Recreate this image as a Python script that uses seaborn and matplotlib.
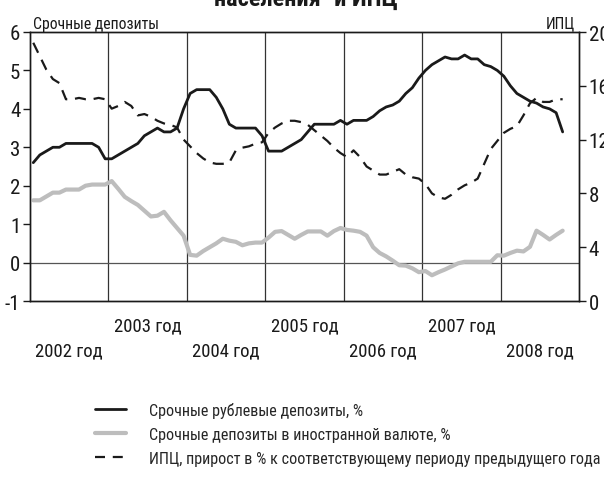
import os
import numpy as np
import pandas as pd
import matplotlib
matplotlib.use("Agg")
import matplotlib.pyplot as plt
import matplotlib.transforms as mtransforms
from matplotlib.lines import Line2D
from matplotlib import font_manager
import seaborn as sns

# Monthly series, January 2002 - October 2008
ruble_deposits = [
    2.6, 2.8, 2.9, 3.0, 3.0, 3.1, 3.1, 3.1, 3.1, 3.1, 3.0, 2.7,
    2.7, 2.8, 2.9, 3.0, 3.1, 3.3, 3.4, 3.5, 3.4, 3.4, 3.5, 4.0,
    4.4, 4.5, 4.5, 4.5, 4.3, 4.0, 3.6, 3.5, 3.5, 3.5, 3.5, 3.3,
    2.9, 2.9, 2.9, 3.0, 3.1, 3.2, 3.4, 3.6, 3.6, 3.6, 3.6, 3.7,
    3.6, 3.7, 3.7, 3.7, 3.8, 3.95, 4.05, 4.1, 4.2, 4.4, 4.55, 4.8,
    5.0, 5.15, 5.25, 5.35, 5.3, 5.3, 5.4, 5.3, 5.3, 5.15, 5.1, 5.0,
    4.85, 4.6, 4.4, 4.3, 4.2, 4.15, 4.05, 4.0, 3.9, 3.4,
]
fx_deposits = [
    1.62, 1.62, 1.72, 1.82, 1.82, 1.9, 1.9, 1.9, 2.0, 2.03, 2.03, 2.03,
    2.12, 1.92, 1.71, 1.6, 1.5, 1.35, 1.2, 1.22, 1.32, 1.1, 0.9, 0.7,
    0.2, 0.18, 0.3, 0.4, 0.5, 0.62, 0.57, 0.54, 0.45, 0.5, 0.52, 0.52,
    0.65, 0.8, 0.82, 0.72, 0.62, 0.72, 0.81, 0.81, 0.81, 0.7, 0.82, 0.9,
    0.85, 0.83, 0.8, 0.7, 0.4, 0.25, 0.16, 0.05, -0.07, -0.08, -0.15, -0.25,
    -0.22, -0.33, -0.25, -0.18, -0.1, -0.02, 0.02, 0.02, 0.02, 0.02, 0.02, 0.19,
    0.18, 0.25, 0.31, 0.29, 0.41, 0.83, 0.72, 0.6, 0.72, 0.83,
]
cpi = [
    19.2, 18.2, 17.2, 16.5, 16.2, 15.0, 15.0, 15.1, 15.0, 15.0, 15.1, 15.0,
    14.3, 14.5, 14.8, 14.5, 13.8, 13.9, 13.7, 13.4, 13.2, 13.1, 12.9, 12.0,
    11.5, 11.0, 10.6, 10.3, 10.2, 10.2, 10.3, 11.2, 11.4, 11.5, 11.7, 11.8,
    12.5, 12.9, 13.2, 13.4, 13.4, 13.3, 13.1, 12.7, 12.3, 11.9, 11.4, 11.0,
    10.7, 11.2, 10.7, 10.0, 9.7, 9.4, 9.4, 9.6, 9.8, 9.4, 9.2, 9.1,
    8.7, 8.0, 7.7, 7.6, 7.9, 8.3, 8.6, 8.8, 9.1, 10.2, 11.3, 11.9,
    12.5, 12.8, 13.0, 13.8, 14.7, 15.1, 14.8, 14.8, 15.0, 15.0,
]
years = [2002, 2003, 2004, 2005, 2006, 2007, 2008]
year_labels = [f"{y} год" for y in years]
left_ticks = [-1, 0, 1, 2, 3, 4, 5, 6]
right_ticks = [0, 4, 8, 12, 16, 20]
legend_labels = [
    "Срочные рублевые депозиты, %",
    "Срочные депозиты в иностранной валюте, %",
    "ИПЦ, прирост в % к соответствующему периоду предыдущего года",
]

# each monthly value sits in the middle of its month
t = years[0] + (np.arange(len(ruble_deposits)) + 0.5) / 12
df = pd.DataFrame({"t": t, "rub": ruble_deposits, "fx": fx_deposits, "cpi": cpi})

sns.set_theme(style="white")


def find_font(patterns):
    files = {os.path.basename(f.fname).lower(): f.fname
             for f in font_manager.fontManager.ttflist}
    for p in patterns:
        for name, path in files.items():
            if name.startswith(p):
                return path
    return None


# a narrow face for all captions
reg_path = find_font(["robotocondensed-regular", "roboto_condensed-regular",
                      "opensans_condensed-regular", "opensanscondensed-regular",
                      "opensans-condensedregular", "liberationsansnarrow-regular",
                      "dejavusanscondensed.ttf"])
bold_path = find_font(["robotocondensed-bold", "roboto_condensed-bold",
                       "opensans_condensed-bold", "opensanscondensed-bold",
                       "liberationsansnarrow-bold", "dejavusanscondensed-bold.ttf"])
if reg_path:
    REG = font_manager.FontProperties(fname=reg_path)
    narrow = True
else:
    REG = font_manager.FontProperties(family="DejaVu Sans")
    narrow = False
BOLD = (font_manager.FontProperties(fname=bold_path) if bold_path
        else font_manager.FontProperties(family="DejaVu Sans", weight="bold"))
plt.rcParams["font.family"] = ["DejaVu Sans"]

BLACK = "#1a1a1a"
GREY = "#bdbdbd"

fig = plt.figure(figsize=(6.04, 4.85), dpi=100)
ax = fig.add_axes([30 / 604, 1 - 302 / 485, 549 / 604, 269 / 485])
ax2 = ax.twinx()

ax.set_xlim(2002, 2009)
ax.set_ylim(-1, 6)
ax2.set_ylim(0, 20)

# year boundaries and the zero line
for yr in years[1:]:
    ax.axvline(yr, color="#333333", lw=0.9, zorder=1)
ax.axhline(0, color="#555555", lw=0.9, zorder=1)

sns.lineplot(data=df, x="t", y="fx", ax=ax, color=GREY, lw=3.0, zorder=3)
sns.lineplot(data=df, x="t", y="rub", ax=ax, color=BLACK, lw=2.0, zorder=4)
sns.lineplot(data=df, x="t", y="cpi", ax=ax2, color=BLACK, lw=1.6, zorder=4)
ax2.lines[-1].set_dashes((5, 3.5))

for a in (ax, ax2):
    a.set_xlabel("")
    a.set_ylabel("")
    for s in a.spines.values():
        s.set_color(BLACK)
        s.set_linewidth(1.0)

tick_fs = 15 if narrow else 13
year_fs = 13.5 if narrow else 12
legend_fs = 11.6 if narrow else 9.5
small_fs = 11.3 if narrow else 10

ax.set_xticks(years[1:] + [2009])
ax.tick_params(axis="x", bottom=False, labelbottom=False)
ax.set_yticks(left_ticks)
ax.set_yticklabels([str(v) for v in left_ticks], fontproperties=REG, fontsize=tick_fs)
ax.tick_params(axis="y", left=True, length=5, width=1, color=BLACK, pad=2,
               labelcolor=BLACK)
ax2.set_yticks(right_ticks)
ax2.set_yticklabels([str(v) for v in right_ticks], fontproperties=REG, fontsize=tick_fs)
ax2.tick_params(axis="y", right=True, length=5, width=1, color=BLACK, pad=2,
                labelcolor=BLACK)

# year captions, alternating between two rows
trans = mtransforms.blended_transform_factory(ax.transData, ax.transAxes)
for i, (yr, lab) in enumerate(zip(years, year_labels)):
    yoff = -24 / 269 if i % 2 else -49 / 269
    ax.text(yr + 0.5, yoff, lab, transform=trans, ha="center", va="center",
            fontproperties=REG, fontsize=year_fs, color=BLACK)

ax.text(0.005, 1.005, "Срочные депозиты", transform=ax.transAxes, ha="left",
        va="bottom", fontproperties=REG, fontsize=small_fs, color=BLACK)
ax.text(0.993, 1.005, "ИПЦ", transform=ax.transAxes, ha="right",
        va="bottom", fontproperties=REG, fontsize=small_fs, color=BLACK)

fig.text(0.507, 1 - 6 / 485, "населения\" и ИПЦ", ha="center", va="baseline",
         fontproperties=BOLD, fontsize=17.5, color=BLACK)

handles = [
    Line2D([], [], color=BLACK, lw=2.0),
    Line2D([], [], color=GREY, lw=3.0),
    Line2D([], [], color=BLACK, lw=1.6, dashes=(4.5, 3.5)),
]
leg_font = REG.copy()
leg_font.set_size(legend_fs)
fig.legend(handles, legend_labels, loc="upper left",
           bbox_to_anchor=(95 / 604, 1 - 403 / 485), frameon=False,
           prop=leg_font, handlelength=1.9, handletextpad=1.45,
           labelspacing=0.55, borderpad=0, borderaxespad=0)

fig.savefig("out.png", dpi=100)
